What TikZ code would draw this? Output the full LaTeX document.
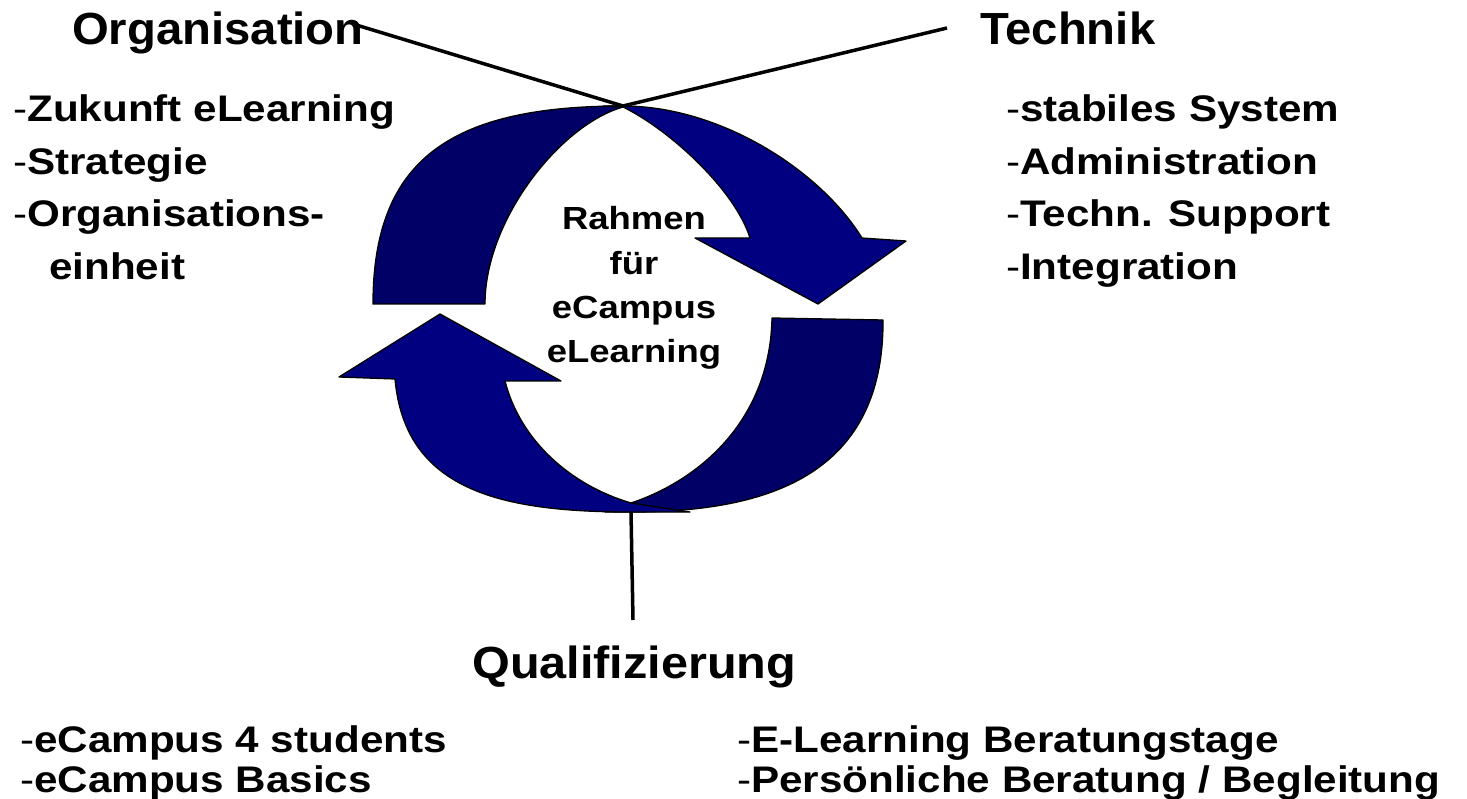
\documentclass[tikz,border=0pt]{standalone}
\usepackage{fontspec}
\setmainfont{Liberation Sans}
\newfontfamily\headfont[FakeStretch=1.05]{Liberation Sans}
\newfontfamily\qualfont[FakeStretch=1.08]{Liberation Sans}
\newfontfamily\bodyfont[FakeStretch=1.14]{Liberation Sans}
\definecolor{navydark}{RGB}{0,0,102}
\definecolor{navybright}{RGB}{0,0,128}
\tikzset{
  head/.style={anchor=base west, inner sep=0pt, font=\headfont\bfseries\fontsize{45}{54}\selectfont},
  item/.style={anchor=base west, inner sep=0pt, font=\bodyfont\bfseries\fontsize{37}{44}\selectfont},
  mid/.style={anchor=base, inner sep=0pt, font=\bodyfont\bfseries\fontsize{32}{38}\selectfont},
  piece/.style={draw=black, line width=1.3pt, line join=round},
  link/.style={draw=black, line width=3.5pt}
}
\newcommand{\hy}{{\mdseries -}}
\begin{document}
\begin{tikzpicture}[x=1pt,y=-1pt]
\useasboundingbox[fill=white] (0,0) rectangle (1467,799);

% top arrow
\path[piece, fill=navydark] (373,304) .. controls (373,160) and (450,106) .. (623,106)
  -- (623,107) .. controls (560,125) and (485,220) .. (485,304) -- cycle;
\path[piece, fill=navybright] (603,106) -- (623,106) .. controls (720,106) and (820,170) .. (862,238)
  -- (906,241) -- (818,304) -- (695,238) -- (750,238)
  .. controls (735,190) and (670,130) .. (623,107) -- cycle;

% bottom arrow
\path[piece, fill=navydark] (883,320) .. controls (884,480) and (760,512) .. (631,512)
  -- (605,512) -- (631,503) .. controls (700,480) and (770,420) .. (772,318) -- cycle;
\path[piece, fill=navybright] (690,512) -- (631,512) .. controls (500,512) and (405,490) .. (395,379)
  -- (339,377) -- (440,314) -- (561,381) -- (505,381)
  .. controls (520,440) and (570,485) .. (631,503) -- cycle;

% headings
\node[head] (org) at (72,45) {Organisation};
\node[head] (tech) at (980,45) {Technik};
\node[head, font=\qualfont\bfseries\fontsize{45}{54}\selectfont] (qual) at (472,678) {Qualifizierung};

% connectors
\coordinate (topj) at (623,106);
\coordinate (orgend) at (353,24);
\coordinate (techend) at (947,28);
\coordinate (botj) at (631,512);
\coordinate (botend) at (633,620);
\draw[link] (orgend) -- (topj) -- (techend);
\draw[link] (botj) -- (botend);

% left list
\node[item] (o1) at (13,121.7) {\hy Zukunft eLearning};
\node[item] (o2) at (13,174.4) {\hy Strategie};
\node[item] (o3) at (13,227) {\hy Organisations-};
\node[item] (o4) at (49,279.7) {einheit};

% right list
\node[item] (t1) at (1006,121.7) {\hy stabiles System};
\node[item] (t2) at (1006,174.4) {\hy Administration};
\node[item] (t3) at (1006,227) {\hy Techn. Support};
\node[item] (t4) at (1006,279.7) {\hy Integration};

% center
\node[mid] (c1) at (634,230) {Rahmen};
\node[mid] (c2) at (634,274.5) {für};
\node[mid] (c3) at (634,319) {eCampus};
\node[mid] (c4) at (634,363) {eLearning};

% bottom lists
\node[item] (q1) at (20,752) {\hy eCampus 4 students};
\node[item] (q2) at (20,792) {\hy eCampus Basics};
\node[item] (q3) at (737,752) {\hy E-Learning Beratungstage};
\node[item] (q4) at (737,792) {\hy Persönliche Beratung / Begleitung};
\end{tikzpicture}
\end{document}
